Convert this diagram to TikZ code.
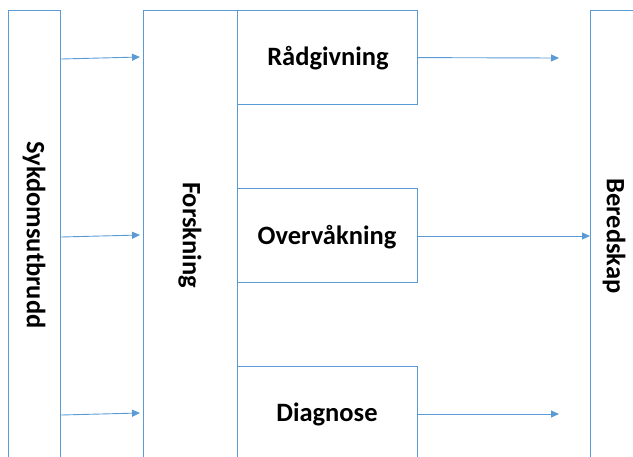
\documentclass[tikz,border=0pt]{standalone}
\usepackage{fontspec}
\setmainfont{Carlito}
\usepackage{tikz}
\usetikzlibrary{arrows.meta,positioning}
\definecolor{boxblue}{RGB}{91,155,213}

\tikzset{
  blokk/.style={draw=boxblue, line width=1.2pt, rectangle, anchor=north west, inner sep=0pt},
  etikett/.style={font=\fontsize{26.5}{30}\selectfont\bfseries, inner sep=0pt},
  pil/.style={draw=boxblue, line width=0.9pt, -{Triangle[length=8pt,width=7pt]}},
}

\begin{document}
\begin{tikzpicture}[x=1pt, y=-1pt]
      \clip (0,0) rectangle (633,456);
      % kolonner
      \node[blokk, minimum width=52pt, minimum height=470pt] (sykdom) at (8,10) {};
      \node[blokk, minimum width=94pt, minimum height=470pt] (forsk) at (143,10) {};
      \node[blokk, minimum width=180pt, minimum height=94pt] (raad) at (237,10) {};
      \node[blokk, minimum width=180pt, minimum height=94pt] (overv) at (237,188) {};
      \node[blokk, minimum width=180pt, minimum height=120pt] (diag) at (237,366) {};
      \node[blokk, minimum width=60pt, minimum height=470pt] (bered) at (590,10) {};
      % tekster
      \node[etikett, rotate=-90] (sykdomtxt) at (34,235) {Sykdomsutbrudd};
      \node[etikett, rotate=-90] (forsktxt) at (190,235) {Forskning};
      \node[etikett, rotate=-90] (beredtxt) at (614,236) {Beredskap};
      \node[etikett] (raadtxt) at (328,58) {Rådgivning};
      \node[etikett] (overvtxt) at (327,237) {Overvåkning};
      \node[etikett] (diagtxt) at (327,414) {Diagnose};
      % piler inn
      \coordinate (inn1) at (140,57);
      \coordinate (inn2) at (140,235);
      \coordinate (inn3) at (140,413);
      \draw[pil] (sykdom.east |- 0,59) -- (inn1);
      \draw[pil] (sykdom.east |- 0,237) -- (inn2);
      \draw[pil] (sykdom.east |- 0,415) -- (inn3);
      % piler ut
      \coordinate (ut1) at (559,58);
      \coordinate (ut3) at (559,414);
      \draw[pil] (raad.east) -- (ut1);
      \draw[pil] (overv.east |- 0,236) -- (bered.west |- 0,236);
      \draw[pil] (diag.east |- 0,414) -- (ut3);
\end{tikzpicture}
\end{document}
